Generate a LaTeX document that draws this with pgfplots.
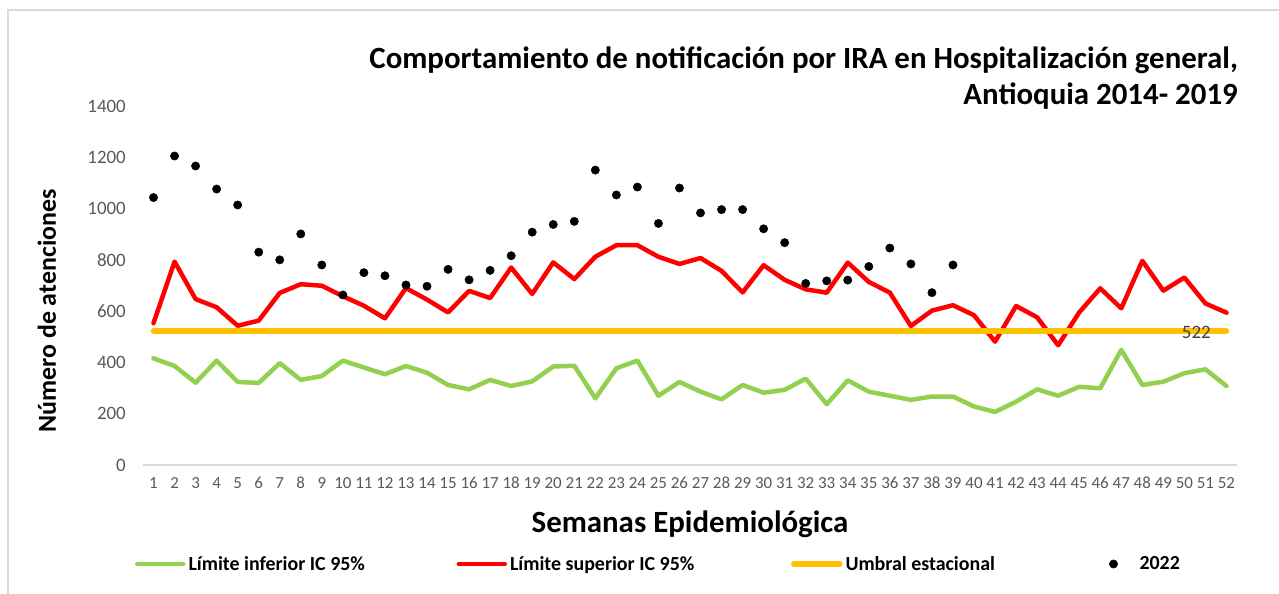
\documentclass[border=0pt]{standalone}
\usepackage{pgfplots}
\pgfplotsset{compat=1.18}
\usepackage{fontspec}
\setmainfont{Carlito}
\definecolor{cgreen}{HTML}{92D050}
\definecolor{cred}{HTML}{FF0000}
\definecolor{corange}{HTML}{FFC000}
\definecolor{ctick}{HTML}{595959}
\definecolor{cframe}{HTML}{D9D9D9}
\pgfplotsset{
  linelegend/.style={legend image code/.code={\draw[##1] (0bp,0bp) -- (46bp,0bp);}},
  dotlegend/.style={legend image code/.code={\path[draw=none,fill=none] (0bp,0bp) rectangle (46bp,0.1bp); \draw[##1,draw=none] plot[only marks] coordinates {(23bp,0bp)};}},
}
\begin{document}
\begin{tikzpicture}[x=1bp,y=1bp]
\useasboundingbox (0,0) rectangle (1279,594);
\draw[cframe,line width=1.2bp] (8,-5) -- (8,584) -- (1285,584);
\begin{axis}[
  at={(143bp,129bp)}, anchor=south west,
  scale only axis, width=1094bp, height=359bp,
  xmin=0.5, xmax=52.5, ymin=0, ymax=1400,
  xtick={1,...,52}, ytick={0,200,...,1400},
  axis x line*=bottom, axis y line*=left,
  x axis line style={draw=cframe, line width=1.3bp},
  y axis line style={draw=none},
  major tick length=0pt,
  /pgf/number format/assume math mode=true,
  /pgf/number format/1000 sep={},
  xticklabel style={font=\fontsize{17}{19}\selectfont, text=ctick, inner sep=0pt, yshift=-12bp},
  yticklabel style={font=\fontsize{19}{22}\selectfont, text=ctick, inner sep=0pt, xshift=-17bp},
  clip=false,
  legend columns=4,
  legend style={at={(-0.0073,-0.2758)}, anchor=west, draw=none, fill=none, inner sep=0pt, outer sep=0pt,
    nodes={inner sep=3bp, font=\bfseries\fontsize{20}{23}\selectfont},
    /tikz/every odd column/.append style={column sep=0pt},
    /tikz/every even column/.append style={column sep=0pt}},
  legend cell align=left,
]
\addplot[cgreen, line width=4.5bp, line cap=round, line join=round, linelegend] coordinates {
(1,416)(2,386)(3,321)(4,407)(5,324)(6,320)(7,397)(8,332)(9,347)(10,407)
(11,380)(12,354)(13,386)(14,360)(15,312)(16,295)(17,332)(18,308)(19,326)(20,384)
(21,387)(22,260)(23,377)(24,407)(25,270)(26,324)(27,286)(28,256)(29,312)(30,282)
(31,293)(32,337)(33,237)(34,330)(35,286)(36,270)(37,254)(38,267)(39,267)(40,228)
(41,207)(42,247)(43,295)(44,270)(45,305)(46,299)(47,449)(48,312)(49,325)(50,358)
(51,373)(52,308)};
\addlegendentry{\makebox[265bp][l]{Límite inferior IC 95\%}}
\addplot[cred, line width=4.5bp, line cap=round, line join=round, linelegend] coordinates {
(1,553)(2,793)(3,647)(4,615)(5,543)(6,563)(7,671)(8,705)(9,699)(10,658)
(11,621)(12,572)(13,690)(14,645)(15,595)(16,679)(17,651)(18,770)(19,667)(20,790)
(21,725)(22,812)(23,857)(24,857)(25,812)(26,784)(27,807)(28,757)(29,673)(30,779)
(31,722)(32,685)(33,672)(34,789)(35,714)(36,672)(37,542)(38,602)(39,623)(40,584)
(41,481)(42,620)(43,576)(44,467)(45,595)(46,689)(47,611)(48,796)(49,680)(50,731)
(51,630)(52,594)};
\addlegendentry{\makebox[278bp][l]{Límite superior IC 95\%}}
\addplot[corange, line width=5.5bp, line cap=round, linelegend] coordinates {
(1,522)(52,522)};
\addlegendentry{\makebox[242bp][l]{Umbral estacional}}
\addplot[only marks, mark=*, mark size=4.2bp, black, dotlegend] coordinates {
(1,1043)(2,1205)(3,1166)(4,1076)(5,1014)(6,830)(7,800)(8,901)(9,780)(10,663)
(11,750)(12,738)(13,702)(14,697)(15,763)(16,722)(17,759)(18,816)(19,908)(20,938)
(21,950)(22,1150)(23,1053)(24,1084)(25,942)(26,1080)(27,983)(28,996)(29,996)(30,921)
(31,867)(32,708)(33,718)(34,721)(35,774)(36,846)(37,784)(38,672)(39,780)};
\addlegendentry{\makebox[50bp][l]{2022}}
\node[text=black!75, font=\fontsize{19}{22}\selectfont, inner sep=0pt] at (axis cs:50.57,518) {522};
\end{axis}
\node[anchor=base east, inner sep=0pt, font=\bfseries\fontsize{31}{36}\selectfont] at (1238,525) {Comportamiento de notificación por IRA en Hospitalización general,};
\node[anchor=base east, inner sep=0pt, font=\bfseries\fontsize{31}{36}\selectfont] at (1238,489) {Antioquia 2014- 2019};
\node[rotate=90, inner sep=0pt, font=\bfseries\fontsize{26}{30}\selectfont] at (47,283) {Número de atenciones};
\node[inner sep=0pt, font=\bfseries\fontsize{31}{36}\selectfont] at (690,70) {Semanas Epidemiológica};
\end{tikzpicture}
\end{document}
